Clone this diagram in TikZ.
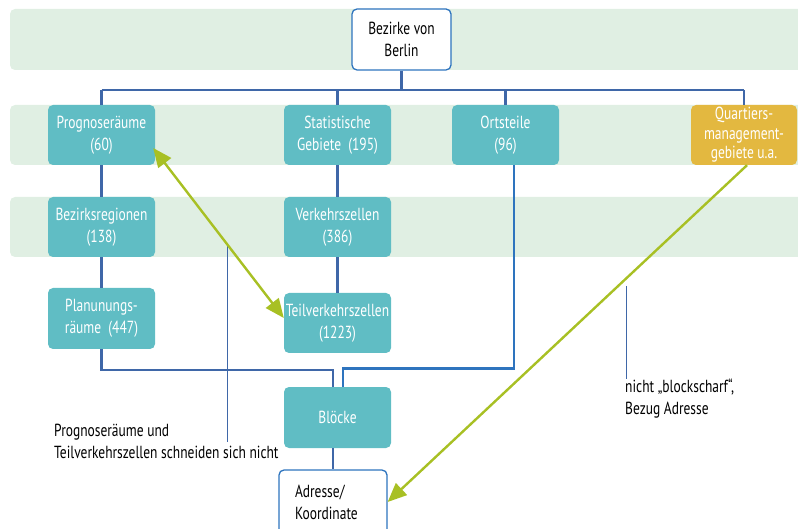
\documentclass[tikz,border=0pt]{standalone}
\usepackage{fontspec}
\setmainfont{PT Sans}[FakeStretch=0.77]
\usetikzlibrary{arrows.meta,positioning}

\definecolor{bandgreen}{HTML}{E0EFE3}
\definecolor{boxteal}{HTML}{60BDC4}
\definecolor{boxgold}{HTML}{E3B840}
\definecolor{linkblue}{HTML}{3F67A8}
\definecolor{frameblue}{HTML}{2E74BE}
\definecolor{arrowgreen}{HTML}{A8C024}

\begin{document}
\begin{tikzpicture}[x=1pt,y=-1pt,node distance=92pt,
	  font=\fontsize{17.5}{22}\selectfont,
	  box/.style={rectangle,rounded corners=5pt,minimum width=107pt,minimum height=60pt,
	    fill=boxteal,text=white,align=center,inner sep=2pt},
	  frame box/.style={box,fill=white,draw=frameblue,line width=1.3pt,text=black},
	  bus/.style={draw=linkblue,line width=2.3pt},
	  note line/.style={draw=linkblue,line width=1pt},
	  note/.style={align=left,inner sep=0pt,text=black},
	  green arrow/.style={draw=arrowgreen,line width=2.4pt}]

	\useasboundingbox (0,0) rectangle (798,529);

	% bands
	\fill[bandgreen,rounded corners=5pt] (10,9) rectangle (830,70);
	\fill[bandgreen,rounded corners=5pt] (10,105) rectangle (830,165);
	\fill[bandgreen,rounded corners=5pt] (10,197) rectangle (830,257);

		\node[frame box,minimum width=99pt,minimum height=61pt] (bezirke) at (401.5,39.5) {Bezirke von\\Berlin};
		\node[box] (prog) at (101.5,135) {Prognoseräume\\(60)};
		\node[box] (stat) at (337.5,135) {Statistische\\Gebiete~~(195)};
		\node[box] (orts) at (505.5,135) {Ortsteile\\(96)};
		\node[box,fill=boxgold,minimum width=106pt,font=\fontsize{17.5}{19.5}\selectfont] (quart) at (744,135) {Quartiers-\\management-\\gebiete u.a.};
		\node[box] (bezreg) [below of=prog] {Bezirksregionen\\(138)};
		\node[box] (verk) [below of=stat] {Verkehrszellen\\(386)};
		\node[box,minimum height=61pt] (plan) at (101.5,318.5) {Planunungs-\\räume~~(447)};
		\node[box,inner sep=0pt] (teil) at (337.5,323) {Teilverkehrszellen\\(1223)};
		\node[box,minimum height=61pt] (bloecke) at (337.5,417.5) {Blöcke};
		\node[frame box,minimum width=108pt,minimum height=64pt,align=left,text width=76pt] (adresse) at (333,502) {Adresse/\\Koordinate};

		\node[note,anchor=north west] (schnitt) at (54,424) {Prognoseräume und\\Teilverkehrszellen schneiden sich nicht};
		\node[note,anchor=north west] (blockscharf) at (625,379) {nicht „blockscharf“,\\Bezug Adresse};

		\coordinate (busL) at (101.5,90);
		\coordinate (busR) at (744,90);
		\coordinate (schnittTop) at (227,246);
		\coordinate (blockTop) at (626,286);

	% tree
	\draw[bus,line width=3.5pt] (bezirke.south) -- (bezirke.south |- busL);
	\draw[bus] (busL) -- (busR);
	\draw[bus] (busL) -- (prog.north);
	\draw[bus] (stat.north |- busL) -- (stat.north);
	\draw[bus] (orts.north |- busL) -- (orts.north);
	\draw[bus] (busR) -- (quart.north);
	\path[bus]
		(prog) edge (bezreg)
		(bezreg) edge (plan)
		(stat) edge (verk)
		(verk) edge (teil);
	\draw[bus] (plan.south) -- ++(0,21) -| ([xshift=-4.5pt]bloecke.north);
	\draw[bus,draw=frameblue,line width=2.6pt] ([xshift=8.5pt]orts.south) -- ++(0,203) -| ([xshift=5.5pt]bloecke.north);
	\draw[bus] (bloecke.south -| adresse.north) -- (adresse.north);

	% notes
	\draw[note line] (schnittTop) -- (schnittTop |- schnitt.center);
	\draw[note line] (blockTop) -- (blockTop |- blockscharf.north);

	% green arrows
	\draw[green arrow,{Triangle[length=19pt,width=16pt]}-{Triangle[length=19pt,width=16pt]}]
		([shift={(-2,13)}]prog.east) -- ([yshift=5pt]teil.west);
	\draw[green arrow,-{Triangle[length=19pt,width=16pt]}]
		([xshift=3pt]quart.south) -- (adresse.east);

\end{tikzpicture}
\end{document}
